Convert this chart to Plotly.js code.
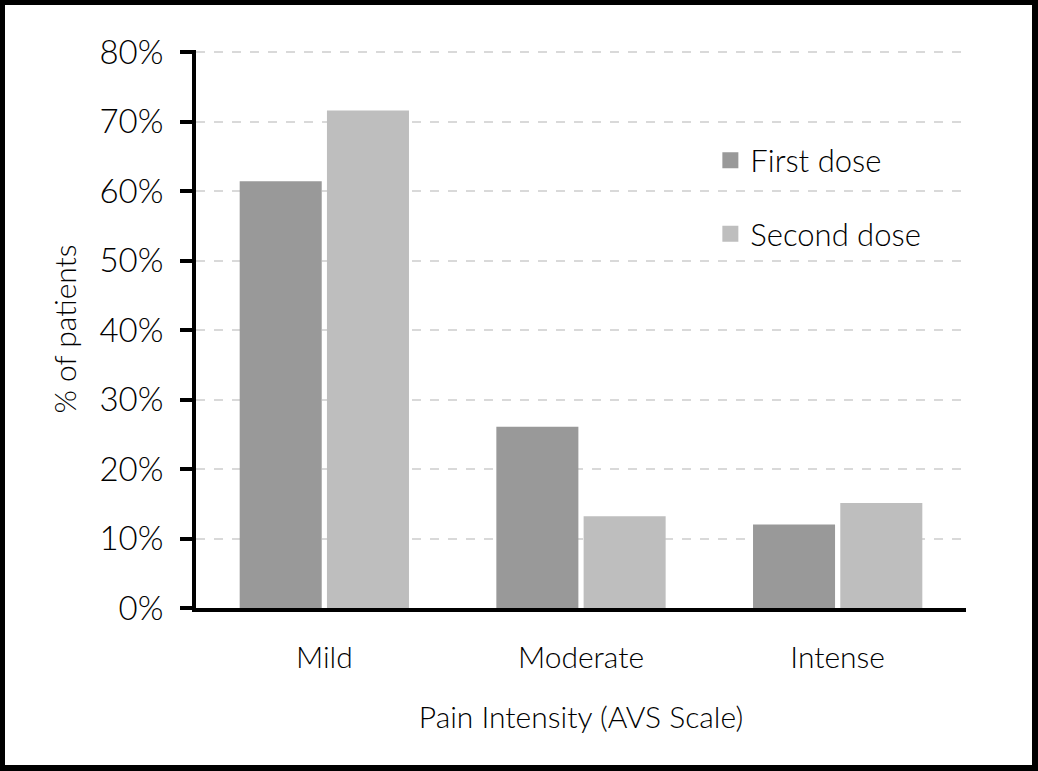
<!DOCTYPE html>
<html>
<head>
<meta charset="utf-8">
<script src="https://cdn.plot.ly/plotly-3.0.1.min.js"></script>
<style>
  html, body { margin: 0; padding: 0; background: #000; width: 1038px; height: 771px; overflow: hidden; }
  #chart { position: absolute; left: 5px; top: 5px; width: 1027px; height: 760px; background: #fff; }
</style>
</head>
<body>
<div id="chart"></div>
<script>
const categories = ["Mild", "Moderate", "Intense"];
const seriesNames = ["First dose", "Second dose"];
const firstDose = [61.4, 26.1, 12.0];
const secondDose = [71.6, 13.2, 15.1];
const yTicks = [0, 10, 20, 30, 40, 50, 60, 70, 80];
const colors = ["#999999", "#bebebe"];

const FONT = "Lato, 'Open Sans', sans-serif";

const data = [
  { type: "bar", x: categories, y: firstDose, name: seriesNames[0], marker: { color: colors[0] }, showlegend: false, hoverinfo: "x+y" },
  { type: "bar", x: categories, y: secondDose, name: seriesNames[1], marker: { color: colors[1] }, showlegend: false, hoverinfo: "x+y" },
  { type: "scatter", mode: "markers", x: [null], y: [null], name: seriesNames[0], legendgroup: "a",
    marker: { symbol: "square", size: 20, color: colors[0] } },
  { type: "scatter", mode: "markers", x: [null], y: [null], name: seriesNames[1], legendgroup: "b",
    marker: { symbol: "square", size: 20, color: colors[1] } }
];

const layout = {
  width: 1027, height: 760,
  margin: { l: 191, r: 66, t: 45, b: 157 },
  paper_bgcolor: "#ffffff", plot_bgcolor: "#ffffff",
  font: { family: FONT, color: "#000", size: 30, weight: 300 },
  barmode: "group",
  bargap: 0.32,
  bargroupgap: 0.06,
  showlegend: true,
  legend: {
    x: 0.668, y: 0.85, xanchor: "left", yanchor: "top",
    traceorder: "grouped", tracegroupgap: 30,
    font: { family: FONT, size: 31, color: "#000", weight: 300 },
    bgcolor: "rgba(0,0,0,0)", itemwidth: 30
  },
  xaxis: {
    type: "category",
    showline: true, linecolor: "#000", linewidth: 4,
    ticks: "", showgrid: false, zeroline: false,
    tickfont: { family: FONT, size: 30, color: "#000", weight: 300 },
    ticklabelstandoff: 20,
    title: { text: "Pain Intensity (AVS Scale)", font: { family: FONT, size: 30, color: "#000", weight: 300 }, standoff: 35 },
    fixedrange: true
  },
  yaxis: {
    range: [0, 80.3],
    tickvals: yTicks,
    ticktext: yTicks.map(v => v + "%"),
    showline: true, linecolor: "#000", linewidth: 4,
    ticks: "outside", ticklen: 12, tickwidth: 4, tickcolor: "#000",
    ticklabelstandoff: 10,
    showgrid: true, gridcolor: "#d9d9d9", gridwidth: 2, griddash: "dash",
    zeroline: false,
    tickfont: { family: FONT, size: 33, color: "#000", weight: 300 },
    title: { text: "% of patients", font: { family: FONT, size: 30, color: "#000", weight: 300 }, standoff: 15 },
    fixedrange: true
  }
};

Plotly.newPlot("chart", data, layout, { displayModeBar: false, staticPlot: true });
</script>
</body>
</html>
